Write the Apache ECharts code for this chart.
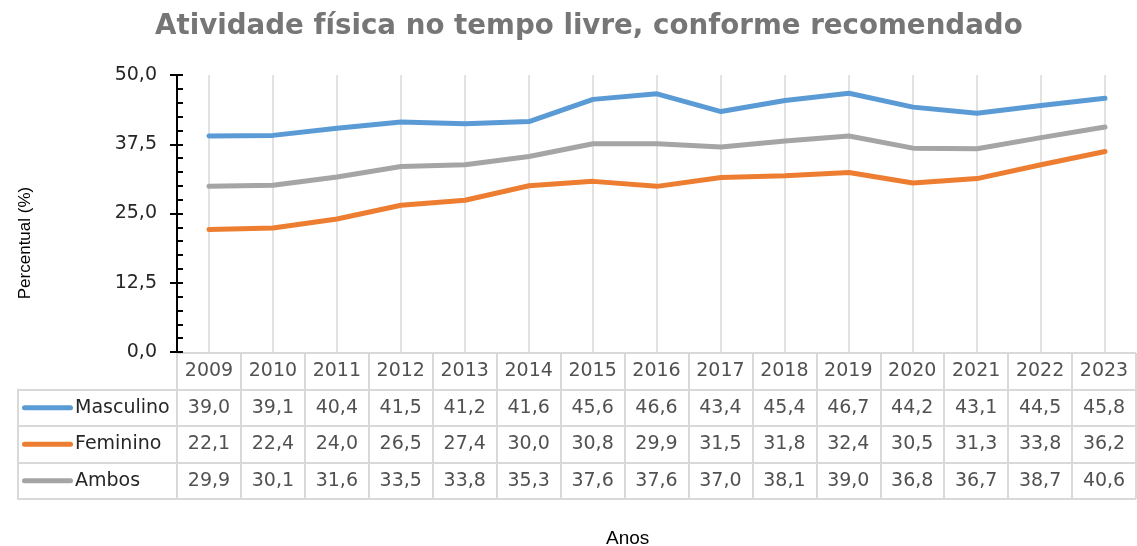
<!DOCTYPE html>
<html>
<head>
<meta charset="utf-8">
<script src="https://cdn.jsdelivr.net/npm/echarts@6/dist/echarts.min.js"></script>
<style>
  html, body { margin: 0; padding: 0; background: #fff; }
  #main { width: 1137px; height: 546px; }
</style>
</head>
<body>
<div id="main"></div>
<script>
var years = ['2009', '2010', '2011', '2012', '2013', '2014', '2015', '2016', '2017', '2018', '2019', '2020', '2021', '2022', '2023'];
var masculino = [39.0, 39.1, 40.4, 41.5, 41.2, 41.6, 45.6, 46.6, 43.4, 45.4, 46.7, 44.2, 43.1, 44.5, 45.8];
var feminino = [22.1, 22.4, 24.0, 26.5, 27.4, 30.0, 30.8, 29.9, 31.5, 31.8, 32.4, 30.5, 31.3, 33.8, 36.2];
var ambos = [29.9, 30.1, 31.6, 33.5, 33.8, 35.3, 37.6, 37.6, 37.0, 38.1, 39.0, 36.8, 36.7, 38.7, 40.6];
var seriesNames = ['Masculino', 'Feminino', 'Ambos'];
var seriesColors = ['#5b9bd5', '#ed7d31', '#a5a5a5'];
var yMin = 0, yMax = 50, yStep = 12.5;

var tableFont = 'DejaVu Sans';
var gridColor = '#d9d9d9';

function fmt(v) {
  return v.toFixed(1).replace('.', ',');
}

var chart = echarts.init(document.getElementById('main'));

// celulas da tabela
var rowKeys = ['h'].concat(seriesNames);
var cells = years.map(function (y) { return [y, 'h', y]; });
[masculino, feminino, ambos].forEach(function (arr, k) {
  arr.forEach(function (v, i) {
    cells.push([years[i], seriesNames[k], v]);
  });
});

var richStyles = {
  t: { fontFamily: tableFont, fontSize: 19, color: '#262626', padding: [0, 0, 0, 2] }
};
seriesNames.forEach(function (n, i) {
  richStyles['k' + i] = { width: 51, height: 5, backgroundColor: seriesColors[i], borderRadius: 3 };
});

var lineSeries = [masculino, feminino, ambos].map(function (arr, i) {
  return {
    name: seriesNames[i],
    type: 'line',
    xAxisIndex: 0,
    yAxisIndex: 0,
    data: arr,
    symbol: 'none',
    color: seriesColors[i],
    lineStyle: { width: 5, color: seriesColors[i], cap: 'round', join: 'round' },
    z: 5
  };
});

var option = {
  animation: false,
  backgroundColor: '#fff',
  title: [
    {
      text: 'Atividade física no tempo livre, conforme recomendado',
      left: 150,
      top: 8,
      textStyle: { fontFamily: 'DejaVu Sans', fontWeight: 'bold', fontSize: 27.7, color: '#767676' }
    },
    {
      text: 'Anos',
      left: 601,
      top: 524,
      textStyle: { fontFamily: 'Liberation Sans', fontWeight: 'normal', fontSize: 19, color: '#000' }
    }
  ],
  graphic: [
    {
      type: 'text',
      x: 25,
      y: 243,
      rotation: Math.PI / 2,
      style: {
        text: 'Percentual (%)',
        fontFamily: 'Liberation Sans',
        fontSize: 17,
        fill: '#000',
        align: 'center',
        verticalAlign: 'middle'
      }
    }
  ],
  grid: [
    { left: 209, right: 32, top: 75, bottom: 194 },
    { left: 177, right: 0, top: 75, bottom: 194 },
    { left: 177, right: 1, top: 353, bottom: 47 },
    { left: 18, width: 159, top: 389.5, bottom: 47 }
  ],
  xAxis: [
    {
      gridIndex: 0,
      type: 'category',
      data: years,
      boundaryGap: false,
      axisLine: { show: false },
      axisTick: { show: false },
      axisLabel: { show: false },
      splitLine: { show: true, lineStyle: { color: gridColor, width: 1.5 } }
    },
    { gridIndex: 1, type: 'value', show: false },
    {
      gridIndex: 2,
      type: 'category',
      data: years,
      boundaryGap: true,
      axisLine: { show: false },
      axisTick: { show: false },
      axisLabel: { show: false },
      splitLine: { show: true, lineStyle: { color: gridColor, width: 2 } }
    },
    { gridIndex: 3, type: 'value', min: 0, max: 1, show: false }
  ],
  yAxis: [
    { gridIndex: 0, type: 'value', min: yMin, max: yMax, show: false },
    {
      gridIndex: 1,
      type: 'value',
      position: 'left',
      min: yMin,
      max: yMax,
      interval: yStep,
      axisLine: { show: true, lineStyle: { color: '#000', width: 2 } },
      axisTick: { show: true, inside: true, length: 6, lineStyle: { color: '#000', width: 2 } },
      minorTick: { show: true, splitNumber: 5, length: 6, lineStyle: { color: '#000', width: 2 } },
      axisLabel: { show: false },
      splitLine: { show: false }
    },
    {
      gridIndex: 1,
      type: 'value',
      position: 'left',
      offset: 0,
      min: yMin,
      max: yMax,
      interval: yStep,
      axisLine: { show: false },
      axisTick: { show: true, length: 7, lineStyle: { color: '#000', width: 2 } },
      axisLabel: {
        formatter: fmt,
        margin: 20,
        fontFamily: tableFont,
        fontSize: 19,
        color: '#262626'
      },
      splitLine: { show: false }
    },
    {
      gridIndex: 2,
      type: 'category',
      data: rowKeys,
      inverse: true,
      axisLine: { show: false },
      axisTick: { show: false },
      splitLine: { show: true, lineStyle: { color: gridColor, width: 2 } },
      axisLabel: {
        align: 'left',
        margin: 155,
        formatter: function (v) {
          var i = seriesNames.indexOf(v);
          if (i < 0) return '';
          return '{k' + i + '|}{t|' + v + '}';
        },
        rich: richStyles
      }
    },
    {
      gridIndex: 3,
      type: 'category',
      data: seriesNames,
      inverse: true,
      axisLine: { show: true, lineStyle: { color: gridColor, width: 2 } },
      axisTick: { show: false },
      axisLabel: { show: false },
      splitLine: { show: true, lineStyle: { color: gridColor, width: 2 } }
    }
  ],
  series: lineSeries.concat([
    {
      type: 'scatter',
      xAxisIndex: 2,
      yAxisIndex: 3,
      data: cells,
      symbolSize: 1,
      itemStyle: { color: 'rgba(0,0,0,0)' },
      silent: true,
      label: {
        show: true,
        position: 'inside',
        fontFamily: tableFont,
        fontSize: 19,
        color: '#262626',
        formatter: function (p) {
          var v = p.value[2];
          return typeof v === 'number' ? fmt(v) : v;
        }
      }
    }
  ])
};

chart.setOption(option);
</script>
</body>
</html>
